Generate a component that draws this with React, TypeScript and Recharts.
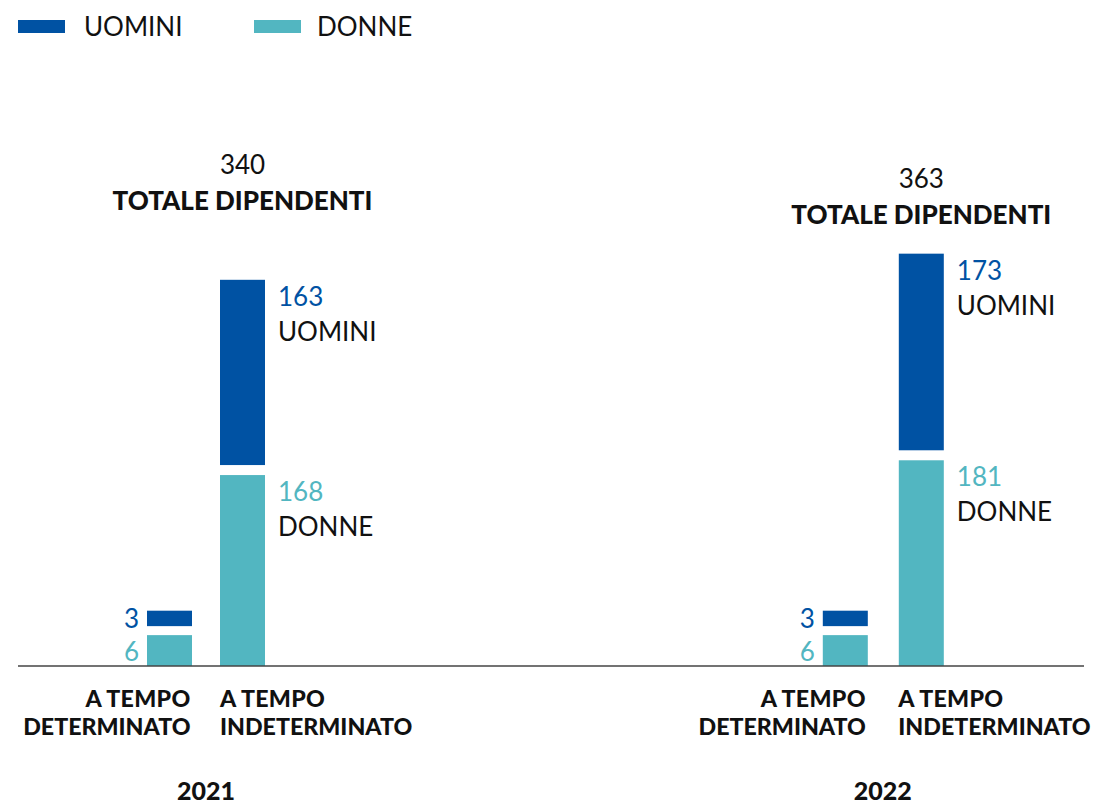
import React from "react";
import { BarChart, Bar, XAxis, YAxis, LabelList } from "recharts";

const years = ["2021", "2022"];
const categories = ["A TEMPO|DETERMINATO", "A TEMPO|INDETERMINATO"];
const uominiDet = [3, 3];
const donneDet = [6, 6];
const uominiInd = [163, 173];
const donneInd = [168, 181];
const totals = [340, 363];

const BLUE = "#0052a3";
const TEAL = "#52b6c1";
const FONT = "Lato, 'Open Sans', sans-serif";

// chart frame, page coordinates: baseline sits at y=666
const CHART_H = 804;
const TOP = 100;
const AXIS_H = 138;

interface GroupLayout {
  left: number;
  width: number;
  marginRight: number;
  padLeft: number;
  padRight: number;
  band: number;
  totalLift: number;
}

const layouts: GroupLayout[] = [
  { left: 18, width: 532, marginRight: 0, padLeft: 115, padRight: 271, band: 73, totalLift: 70 },
  { left: 550, width: 543, marginRight: 9, padLeft: 256.8, padRight: 125.2, band: 76, totalLift: 30 },
];

function rowsFor(i: number) {
  return [
    { cat: categories[0], donneDet: donneDet[i], uominiDet: uominiDet[i] },
    { cat: categories[1], donne: donneInd[i], uomini: uominiInd[i], total: totals[i] },
  ];
}

const gapShape = (gap: number) => (props: any) => {
  const { x, y, width, height, fill } = props;
  if (!height || height <= 0) return <g />;
  return <rect x={x} y={y - gap} width={width} height={height} fill={fill} />;
};

const sideLabel = (gap: number, name: string, color: string) => (props: any) => {
  const { x, y, width, height, value } = props;
  if (value == null || !height) return null;
  const top = y - gap;
  const lx = x + width + 13;
  return (
    <g>
      <text x={lx} y={top + 26} fill={color} fontSize={26} fontFamily={FONT}>
        {value}
      </text>
      <text x={lx} y={top + 61} fill="#111" fontSize={26} fontFamily={FONT}>
        {name}
      </text>
    </g>
  );
};

const leftLabel = (gap: number, color: string) => (props: any) => {
  const { x, y, height, value } = props;
  if (value == null || !height) return null;
  return (
    <text
      x={x - 8}
      y={y - gap + height / 2}
      textAnchor="end"
      dominantBaseline="central"
      fill={color}
      fontSize={26}
      fontFamily={FONT}
    >
      {value}
    </text>
  );
};

const totalLabel = (lift: number, gap: number) => (props: any) => {
  const { x, y, width, value } = props;
  if (value == null) return null;
  const top = y - gap;
  const cx = x + width / 2;
  return (
    <g fontFamily={FONT} textAnchor="middle" fill="#111">
      <text x={cx} y={top - lift - 36} fontSize={26}>
        {value}
      </text>
      <text x={cx} y={top - lift} fontSize={26} fontWeight={900}>
        TOTALE DIPENDENTI
      </text>
    </g>
  );
};

function CategoryTick(props: any) {
  const { x, y, payload, band, year } = props;
  const [l1, l2] = String(payload.value).split("|");
  const isDet = payload.index === 0;
  const tx = isDet ? x + 21 : x - 22.5;
  const anchor = isDet ? "end" : "start";
  return (
    <g fontFamily={FONT} fontWeight={900} fontSize={23.2} fill="#111">
      <text x={tx} y={y + 41} textAnchor={anchor} letterSpacing={0.3}>
        {l1}
      </text>
      <text x={tx} y={y + 69} textAnchor={anchor}>
        {l2}
      </text>
      {isDet && (
        <text x={x + band / 2} y={y + 134} textAnchor="middle" fontSize={25}>
          {year}
        </text>
      )}
    </g>
  );
}

function YearChart({ i }: { i: number }) {
  const lay = layouts[i];
  return (
    <div style={{ position: "absolute", left: lay.left, top: 0 }}>
      <BarChart
        width={lay.width}
        height={CHART_H}
        data={rowsFor(i)}
        margin={{ top: TOP, right: lay.marginRight, bottom: 0, left: 0 }}
        barSize={45}
      >
        <XAxis
          dataKey="cat"
          height={AXIS_H}
          padding={{ left: lay.padLeft, right: lay.padRight }}
          axisLine={{ stroke: "#444", strokeWidth: 1.5 }}
          tickLine={false}
          tickSize={0}
          tickMargin={0}
          interval={0}
          tick={<CategoryTick band={lay.band} year={years[i]} />}
        />
        <YAxis yAxisId="ind" domain={[0, 498]} hide />
        <YAxis yAxisId="det" domain={[0, 110]} hide />
        <Bar dataKey="donneDet" yAxisId="det" stackId="s" fill={TEAL} shape={gapShape(0)} isAnimationActive={false}>
          <LabelList dataKey="donneDet" content={leftLabel(0, TEAL)} />
        </Bar>
        <Bar dataKey="uominiDet" yAxisId="det" stackId="s" fill={BLUE} shape={gapShape(9)} isAnimationActive={false}>
          <LabelList dataKey="uominiDet" content={leftLabel(9, BLUE)} />
        </Bar>
        <Bar dataKey="donne" yAxisId="ind" stackId="s" fill={TEAL} shape={gapShape(0)} isAnimationActive={false}>
          <LabelList dataKey="donne" content={sideLabel(0, "DONNE", TEAL)} />
        </Bar>
        <Bar dataKey="uomini" yAxisId="ind" stackId="s" fill={BLUE} shape={gapShape(10)} isAnimationActive={false}>
          <LabelList dataKey="uomini" content={sideLabel(10, "UOMINI", BLUE)} />
          <LabelList dataKey="total" content={totalLabel(lay.totalLift, 10)} />
        </Bar>
      </BarChart>
    </div>
  );
}

function LegendRow() {
  const items = [
    { name: "UOMINI", color: BLUE, left: 18, gap: 19 },
    { name: "DONNE", color: TEAL, left: 254, gap: 16 },
  ];
  return (
    <>
      {items.map((it) => (
        <div key={it.name} style={{ position: "absolute", left: it.left, top: 9, display: "flex", alignItems: "center" }}>
          <div style={{ width: 47, height: 13, background: it.color }} />
          <span style={{ marginLeft: it.gap, fontFamily: FONT, fontSize: 26, color: "#111", lineHeight: "34px" }}>
            {it.name}
          </span>
        </div>
      ))}
    </>
  );
}

export default function App() {
  return (
    <div style={{ position: "absolute", left: 0, top: 0, width: 1093, height: 804, background: "#fff" }}>
      <LegendRow />
      <YearChart i={0} />
      <YearChart i={1} />
    </div>
  );
}
